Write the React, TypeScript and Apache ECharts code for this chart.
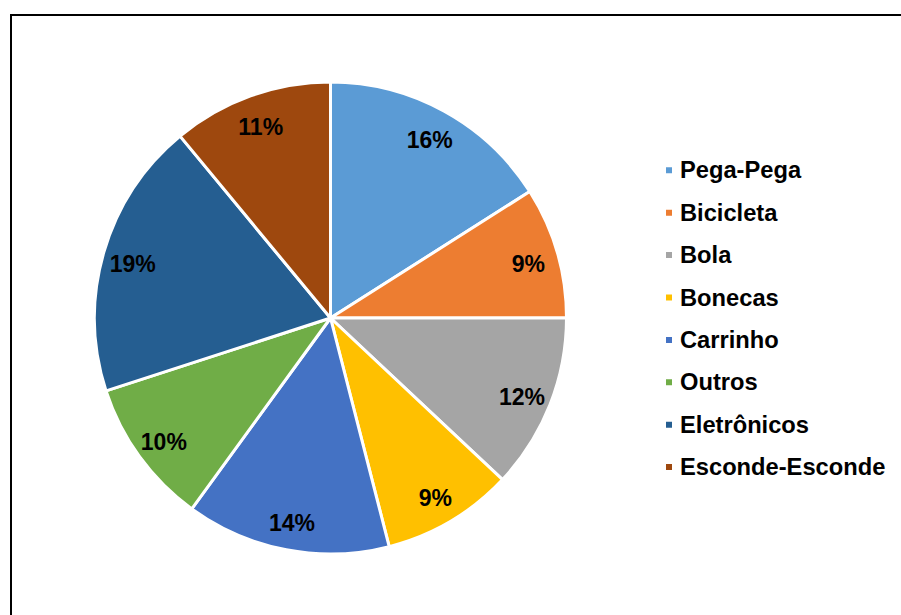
import React, { useEffect, useRef } from "react";
import * as echarts from "echarts";

const categories = ["Pega-Pega", "Bicicleta", "Bola", "Bonecas", "Carrinho", "Outros", "Eletrônicos", "Esconde-Esconde"];
const values = [16, 9, 12, 9, 14, 10, 19, 11];
const colors = ["#5B9BD5", "#ED7D31", "#A5A5A5", "#FFC000", "#4472C4", "#70AD47", "#255E91", "#9E480E"];

const FONT = "'Liberation Sans', Arial, sans-serif";

export default function App() {
  const ref = useRef<HTMLDivElement>(null);
  useEffect(() => {
    if (!ref.current) return;
    const chart = echarts.init(ref.current, null, { renderer: "svg" });
    const data = categories.map((name, i) => ({ name, value: values[i], itemStyle: { color: colors[i] } }));
    const center = [330.5, 318];
    chart.setOption({
      animation: false,
      backgroundColor: "#ffffff",
      graphic: [
        {
          type: "rect",
          shape: { x: 11, y: 15, width: 1000, height: 1000 },
          style: { fill: "none", stroke: "#000", lineWidth: 2 },
          silent: true,
        },
      ],
      legend: {
        orient: "vertical",
        left: 664,
        top: 158.3,
        padding: 0,
        icon: "rect",
        itemWidth: 8,
        itemHeight: 8,
        itemGap: 18.4,
        data: categories,
        textStyle: {
          fontFamily: FONT,
          fontWeight: "bold",
          fontSize: 23.7,
          lineHeight: 23.5,
          color: "#000",
          padding: [0, 0, 0, 2],
        },
      },
      series: [
        {
          type: "pie",
          center,
          radius: [0, 236],
          startAngle: 90,
          clockwise: true,
          data,
          label: { show: false },
          labelLine: { show: false },
          itemStyle: { borderColor: "#ffffff", borderWidth: 3 },
          emphasis: { disabled: true },
        },
        {
          type: "pie",
          center,
          radius: [171, 235],
          startAngle: 90,
          clockwise: true,
          silent: true,
          data: data.map((d) => ({ name: d.name, value: d.value, itemStyle: { color: "transparent" } })),
          itemStyle: { color: "transparent", borderWidth: 0 },
          label: {
            show: true,
            position: "inside",
            formatter: (p: any) => `${p.value}%`,
            fontFamily: FONT,
            fontWeight: "bold",
            fontSize: 23,
            color: "#000",
            offset: [0, 3],
          },
          labelLine: { show: false },
          emphasis: { disabled: true },
          legendHoverLink: false,
        },
      ],
    });
    return () => chart.dispose();
  }, []);
  return (
    <div
      ref={ref}
      style={{ position: "fixed", left: 0, top: 0, width: 901, height: 615 }}
    />
  );
}
